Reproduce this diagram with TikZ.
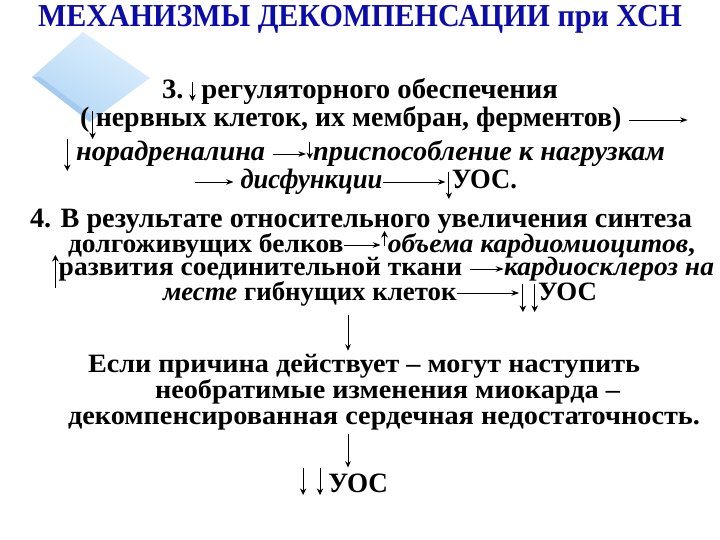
\documentclass[tikz,border=0pt]{standalone}
\usepackage{fontspec}
\usepackage{graphicx}
\setmainfont{Liberation Serif}[FakeStretch=0.85]
\usetikzlibrary{arrows.meta}
\definecolor{titleblue}{RGB}{12,12,170}
\definecolor{diadark}{RGB}{178,214,245}
\definecolor{dialight}{RGB}{222,240,253}
\definecolor{diaedge}{RGB}{165,202,240}
\tikzset{
  arr/.style={-{Stealth[length=6.5pt,width=5.5pt]},line width=0.8pt},
  ln/.style={anchor=base west,inner sep=0pt,outer sep=0pt,font=\bfseries\fontsize{28}{30}\selectfont},
  lns/.style={ln,font=\bfseries\fontsize{26.5}{30}\selectfont},
  ttl/.style={anchor=base west,inner sep=0pt,outer sep=0pt,text=titleblue,font=\bfseries\fontsize{32}{36}\selectfont},
}
\newcommand\DA[2]{\tikz[baseline=0pt]\draw[arr](0,#1)--(0,#2);}
\newcommand\UA[2]{\tikz[baseline=0pt]\draw[arr](0,#2)--(0,#1);}
\newcommand\RA[1]{\tikz[baseline=0pt]\draw[arr](0,7pt)--(#1,7pt);}
\newcommand\fitw[2]{\resizebox{#1}{\height}{#2}}
\begin{document}
\begin{tikzpicture}
\useasboundingbox (0,0) rectangle (720pt,-540pt);
% diamond decoration
\shade[top color=dialight,bottom color=diadark,shading angle=-30] (83pt,-32pt) -- (150pt,-78pt) -- (90pt,-122pt) -- (32pt,-77pt) -- cycle;
\fill[diaedge] (32pt,-77pt) -- (90pt,-122pt) -- (92pt,-116pt) -- (40pt,-77pt) -- cycle;
% title
\node[ttl] (title) at (38pt,-27pt) {\fitw{644pt}{МЕХАНИЗМЫ ДЕКОМПЕНСАЦИИ при ХСН}};
% section 3
\node[ln] (l1) at (162pt,-99pt) {\fitw{396pt}{3.\,\DA{17pt}{-2pt}\,регуляторного обеспечения}};
\node[ln] (l2) at (80pt,-127pt) {\fitw{608pt}{(\DA{16pt}{-12pt}нервных клеток, их мембран, ферментов) \RA{50pt}}};
\node[ln] (l3) at (64pt,-161pt) {\fitw{601pt}{\DA{22pt}{-10pt}\,\textit{норадреналина} \RA{28pt}\DA{19pt}{2pt}\textit{приспособление к нагрузкам}}};
\node[ln] (l4) at (195pt,-189pt) {\fitw{322pt}{\RA{34pt}\ \textit{дисфункции}\RA{56pt}\DA{17pt}{-10pt}УОС.}};
% section 4
\node[ln] (l5) at (30pt,-227pt) {\fitw{662pt}{4. В результате относительного увеличения синтеза}};
\node[lns] (l6) at (68pt,-252pt) {\fitw{627pt}{долгоживущих белков\RA{30pt}\UA{21pt}{6pt}\textit{объема кардиомиоцитов},}};
\node[lns] (l7) at (52pt,-276pt) {\fitw{662pt}{\UA{21pt}{-12pt}развития соединительной ткани \RA{28pt}\textit{кардиосклероз на}}};
\node[lns] (l8) at (163pt,-300pt) {\fitw{434pt}{\textit{месте} гибнущих клеток\RA{52pt}\DA{16pt}{-12pt}\,\DA{16pt}{-12pt}УОС}};
% consequence
\node[lns] (l9) at (88pt,-372pt) {\fitw{552pt}{Если причина действует – могут наступить}};
\node[lns] (l10) at (155pt,-398pt) {\fitw{465pt}{необратимые изменения миокарда –}};
\node[lns] (l11) at (68pt,-424pt) {\fitw{632pt}{декомпенсированная сердечная недостаточность.}};
\node[ln] (l12) at (300pt,-492pt) {\fitw{88pt}{\DA{24pt}{-3pt}\,\,\DA{24pt}{-3pt}\,УОС}};
% connectors
\coordinate (vx) at (348pt,0);
\draw[arr] ([yshift=-3pt]vx |- l8.south) -- ([yshift=3pt]vx |- l9.north);
\draw[arr] ([yshift=-4pt]vx |- l11.south) -- ([yshift=0pt]vx |- l12.north);
\end{tikzpicture}
\end{document}
